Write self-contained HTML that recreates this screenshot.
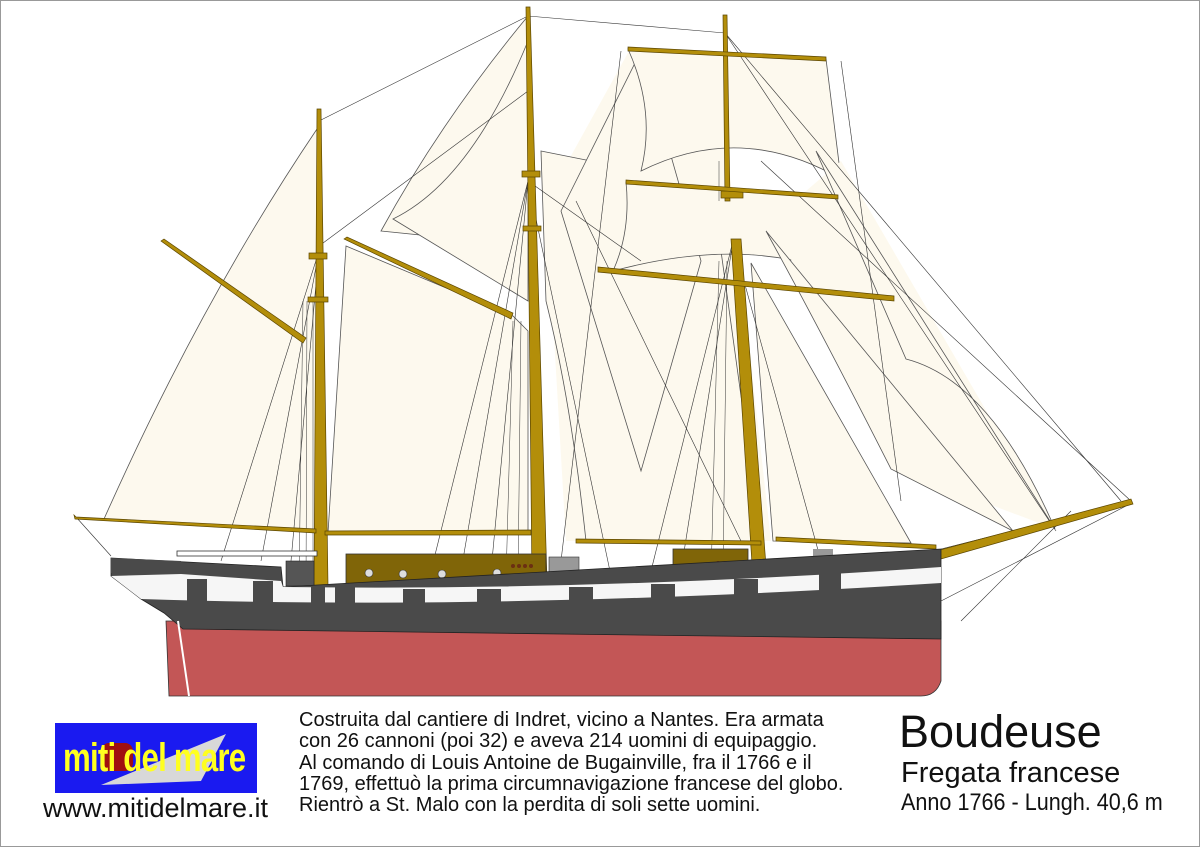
<!DOCTYPE html>
<html><head><meta charset="utf-8"><style>
html,body{margin:0;padding:0;background:#fff}
#c{position:relative;width:1198px;height:845px;border:1px solid #999;overflow:hidden;font-family:"Liberation Sans",sans-serif}
svg{position:absolute;left:0;top:0}
.t{position:absolute;color:#111}
</style></head><body><div id="c">
<svg width="1200" height="847" viewBox="0 0 1200 847">
<g fill="#fdf9ee" stroke="#555" stroke-width="0.8">
<path d="M316 128 Q200 300 103 518 L315 530 Z"/>
<path d="M527 15 Q440 120 380 230 L527 245 Z"/>
<path d="M345 245 L512 315 L527 330 L527 532 L327 532 Z"/>
<path d="M527 40 Q470 180 392 218 L527 300 Z"/>
<path d="M545 200 L628 50 L725 140 L770 540 L565 540 Z" stroke="none"/>
<path d="M540 150 L640 170 L720 250 L760 540 L585 540 Q570 400 545 300 Z"/>
<path d="M560 210 L640 50 L700 260 L640 470 Z"/>
<path d="M627 48 L825 58 L840 178 Q740 120 640 170 Q655 110 627 48 Z"/>
<path d="M625 181 L837 196 L865 285 Q760 230 612 270 Q630 230 625 181 Z"/>
<path d="M770 220 L840 160 L1054 528 L900 470 Z" stroke="none"/>
<path d="M815 150 L1054 528 Q990 380 905 358 Z"/>
<path d="M765 230 L1012 530 L890 468 Q820 330 765 230 Z"/>
<path d="M750 262 L910 542 L772 540 Z"/>
</g>
<g stroke="#333" stroke-width="0.6" fill="none">
<line x1="318" y1="120" x2="527" y2="15"/><line x1="527" y1="15" x2="724" y2="32"/>
<line x1="724" y1="32" x2="1055" y2="530"/><line x1="724" y1="32" x2="1120" y2="500"/>
<line x1="760" y1="160" x2="1130" y2="500"/><line x1="318" y1="245" x2="527" y2="90"/>
<line x1="527" y1="180" x2="640" y2="260"/><line x1="575" y1="200" x2="740" y2="540"/>
<line x1="110" y1="555" x2="75" y2="516"/><line x1="940" y1="548" x2="1130" y2="500"/>
<line x1="940" y1="600" x2="1125" y2="505"/><line x1="960" y1="620" x2="1070" y2="510"/>
<line x1="318" y1="250" x2="220" y2="560"/><line x1="318" y1="250" x2="260" y2="560"/>
<line x1="318" y1="250" x2="290" y2="560"/><line x1="527" y1="180" x2="430" y2="570"/>
<line x1="527" y1="180" x2="460" y2="570"/><line x1="527" y1="180" x2="490" y2="570"/>
<line x1="527" y1="180" x2="610" y2="575"/><line x1="732" y1="240" x2="650" y2="570"/>
<line x1="732" y1="240" x2="680" y2="570"/><line x1="732" y1="240" x2="820" y2="560"/>
<line x1="620" y1="50" x2="560" y2="560"/><line x1="840" y1="60" x2="900" y2="500"/>
</g>
<g stroke="#333" stroke-width="0.5">
<path d="M302 300 L298 585 M312 300 L312 585 M306 300 L305 585" />
<path d="M512 320 L505 580 M520 320 L517 580"/>
<path d="M718 260 L710 578 M726 260 L722 578 M718 160 L718 200 M728 160 L728 200"/>
</g>
<g fill="#b38e0a" stroke="#5a4500" stroke-width="0.7">
<polygon points="316,108 320,108 327,585 313,585"/>
<rect x="308" y="252" width="18" height="6"/><rect x="307" y="296" width="20" height="5"/>
<polygon points="525,6 529,6 546,580 531,580"/>
<rect x="521" y="170" width="18" height="6"/><rect x="522" y="225" width="18" height="5"/>
<polygon points="722,14 726,14 729,200 724,200"/>
<polygon points="730,238 740,238 766,578 752,578"/>
<rect x="720" y="190" width="22" height="7"/>
<polygon points="160,240 163,238 305,337 302,342"/>
<polygon points="343,238 346,236 512,312 510,318"/>
<polygon points="73,514 75,516 315,528 315,532 74,518"/>
<polygon points="324,530 530,529 530,534 324,534"/>
<polygon points="627,46 825,56 825,60 627,50"/>
<polygon points="625,179 837,194 837,198 625,183"/>
<polygon points="597,266 893,295 893,300 597,271"/>
<polygon points="575,538 760,540 760,544 575,542"/>
<polygon points="775,536 935,544 935,548 775,540"/>
<polygon points="935,550 1130,498 1132,503 940,558"/>
</g>
<rect x="176" y="550" width="140" height="5" fill="#fff" stroke="#333" stroke-width="0.8"/>
<rect x="345" y="553" width="200" height="33" fill="#806508" stroke="#333" stroke-width="0.8"/>
<g fill="#ddd" stroke="#333" stroke-width="0.6"><circle cx="368" cy="572" r="4"/><circle cx="402" cy="573" r="4"/><circle cx="441" cy="573" r="4"/><circle cx="496" cy="572" r="4"/></g>
<rect x="548" y="556" width="30" height="30" fill="#999" stroke="#333" stroke-width="0.6"/>
<rect x="672" y="548" width="75" height="32" fill="#806508" stroke="#333" stroke-width="0.8"/>
<rect x="812" y="548" width="20" height="22" fill="#999"/>
<rect x="285" y="560" width="28" height="25" fill="#555" stroke="#222" stroke-width="0.6"/>
<g fill="#6b2f12"><circle cx="512" cy="565" r="2"/><circle cx="518" cy="565" r="2"/><circle cx="524" cy="565" r="2"/><circle cx="530" cy="565" r="2"/><circle cx="512" cy="581" r="2"/><circle cx="518" cy="581" r="2"/><circle cx="524" cy="581" r="2"/><circle cx="530" cy="581" r="2"/><circle cx="717" cy="562" r="2"/><circle cx="724" cy="562" r="2"/><circle cx="731" cy="562" r="2"/><circle cx="738" cy="562" r="2"/><circle cx="717" cy="575" r="2"/><circle cx="724" cy="575" r="2"/><circle cx="731" cy="575" r="2"/><circle cx="738" cy="575" r="2"/></g>
<path d="M165 620 L940 620 L940 680 Q935 695 920 695 L168 695 Z" fill="#c35656" stroke="#333" stroke-width="0.8"/>
<path d="M110 557 L280 566 L282 586 L940 548 L940 638 L182 628 L163 612 L140 598 L110 575 Z" fill="#4a4a4a" stroke="#222" stroke-width="0.8"/>
<path d="M110 575 L140 598 Q500 610 940 582 L940 566 Q600 590 282 586 L280 580 L180 573 Z" fill="#f6f6f6"/>
<g fill="#4a4a4a"><rect x="186" y="578" width="20" height="22"/><rect x="252" y="580" width="20" height="24"/><rect x="310" y="586" width="14" height="22"/><rect x="334" y="586" width="20" height="22"/><rect x="402" y="588" width="22" height="22"/><rect x="476" y="588" width="24" height="22"/><rect x="568" y="586" width="24" height="22"/><rect x="650" y="583" width="24" height="22"/><rect x="733" y="578" width="24" height="22"/><rect x="818" y="572" width="22" height="22"/></g>
<path d="M110 557 L180 560 L182 573 L110 572 Z" fill="#4a4a4a"/>
<line x1="177" y1="620" x2="188" y2="695" stroke="#fff" stroke-width="2"/>
<rect x="54" y="722" width="202" height="70" fill="#1a1af0"/>
<polygon points="100,784 225,733 200,780" fill="#d8d8d8"/>
<rect x="100" y="742" width="32" height="28" rx="8" fill="#a01010"/>
</svg>
<div class="t" style="left:62px;top:735px;font-size:40px;font-weight:bold;color:#ffff20;transform:scaleX(0.78);transform-origin:left;letter-spacing:-1px;white-space:nowrap">miti del mare</div>
<div class="t" style="left:42px;top:792px;font-size:27px;white-space:nowrap">www.mitidelmare.it</div>
<div class="t" style="left:298px;top:709px;font-size:20px;line-height:21.3px;white-space:nowrap">Costruita dal cantiere di Indret, vicino a Nantes. Era armata<br>con 26 cannoni (poi 32) e aveva 214 uomini di equipaggio.<br>Al comando di Louis Antoine de Bugainville, fra il 1766 e il<br>1769, effettuò la prima circumnavigazione francese del globo.<br>Rientrò a St. Malo con la perdita di soli sette uomini.</div>
<div class="t" style="left:898px;top:705px;font-size:45px;white-space:nowrap">Boudeuse</div>
<div class="t" style="left:900px;top:756px;font-size:29px;white-space:nowrap">Fregata francese</div>
<div class="t" style="left:900px;top:788px;font-size:24px;white-space:nowrap;transform:scaleX(0.9);transform-origin:left">Anno 1766 - Lungh. 40,6 m</div>
</div></body></html>
